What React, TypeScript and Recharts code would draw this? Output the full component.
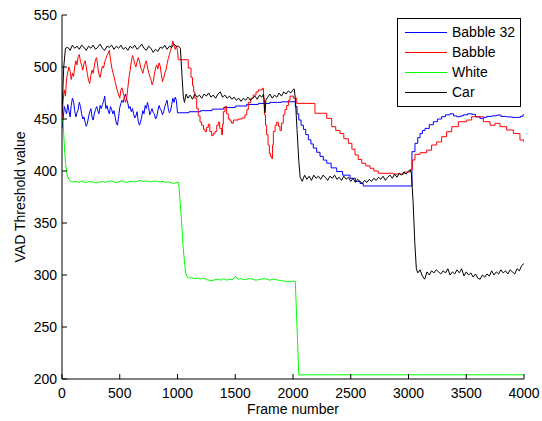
import { LineChart, Line, XAxis, YAxis, Legend } from "recharts";

const FONT = '"Liberation Sans", Arial, Helvetica, sans-serif';

const SERIES_NAMES = ["Babble 32", "Babble", "White", "Car"];
const SERIES_COLORS = ["#0000ff", "#ff0000", "#00ff00", "#000000"];
const X_TICKS = [0, 500, 1000, 1500, 2000, 2500, 3000, 3500, 4000];
const Y_TICKS = [200, 250, 300, 350, 400, 450, 500, 550];

// [frame, threshold] pairs
const babble32: [number, number][] = [
  [0, 441], [10, 450], [20, 462], [30, 458], [40, 455], [50, 464], [60, 458], [70, 452], [80, 463],
  [90, 470], [100, 467], [110, 458], [120, 452], [130, 456], [140, 459], [150, 466], [160, 462],
  [170, 455], [180, 450], [190, 452], [200, 447], [210, 443], [220, 446], [230, 452], [240, 457],
  [250, 460], [260, 452], [270, 449], [280, 455], [290, 459], [300, 462], [310, 458], [320, 455],
  [330, 463], [340, 460], [350, 464], [360, 467], [370, 472], [380, 460], [390, 463], [400, 458],
  [410, 455], [420, 462], [430, 459], [440, 455], [450, 458], [460, 452], [470, 446], [480, 444],
  [490, 452], [500, 461], [510, 465], [520, 468], [530, 466], [540, 471], [550, 474], [560, 469],
  [570, 465], [580, 460], [590, 462], [600, 457], [610, 460], [620, 455], [630, 451], [640, 453],
  [650, 457], [660, 448], [670, 444], [680, 447], [690, 452], [700, 458], [710, 455], [720, 463],
  [730, 460], [740, 466], [750, 461], [760, 454], [770, 457], [780, 460], [790, 456], [800, 455],
  [810, 450], [820, 452], [830, 458], [840, 463], [850, 460], [860, 458], [870, 454], [880, 457],
  [890, 462], [900, 465], [910, 468], [920, 460], [930, 456], [940, 458], [950, 464], [960, 470],
  [970, 466], [980, 471], [990, 468], [1000, 456], [1100, 457], [1200, 458], [1300, 459.5],
  [1400, 461], [1500, 462.5], [1600, 464], [1700, 465], [1800, 466], [1900, 466.5], [2000, 466.7],
  [2020, 462], [2035, 455], [2050, 449], [2070, 444], [2090, 440], [2110, 435], [2133, 430],
  [2155, 426], [2176, 422], [2205, 418], [2234, 414], [2262, 410.5], [2292, 407.5], [2330, 403],
  [2378, 399.5], [2430, 396], [2494, 393], [2540, 390], [2580, 388], [2608, 385.6], [3030, 418.6],
  [3056, 426.6], [3080, 432], [3100, 436], [3120, 439], [3143, 441], [3180, 444.5], [3215, 447.4],
  [3250, 450], [3287, 452.2], [3320, 454], [3359, 455], [3390, 453], [3417, 452.2], [3450, 453],
  [3474, 454], [3510, 455], [3547, 454.5], [3580, 452], [3619, 450.6], [3650, 451.5], [3677, 452.5],
  [3720, 453], [3764, 453.8], [3800, 452.5], [3850, 452], [3900, 451.5], [3937, 451.6],
  [3970, 452.5], [3991, 454], [4000, 454],
];

const babble: [number, number][] = [
  [0, 450], [10, 468], [20, 478], [30, 472], [40, 489], [50, 495], [60, 500], [70, 496], [80, 488],
  [90, 494], [100, 491], [110, 500], [120, 506], [130, 502], [140, 510], [150, 512], [160, 505],
  [170, 502], [180, 497], [190, 503], [200, 506], [210, 500], [220, 493], [230, 487], [240, 484],
  [250, 492], [260, 497], [270, 494], [280, 501], [290, 507], [300, 509], [310, 500], [320, 493],
  [330, 490], [340, 496], [350, 501], [360, 499], [370, 505], [380, 508], [390, 511], [400, 513],
  [410, 516], [420, 507], [430, 500], [440, 495], [450, 491], [460, 486], [470, 481], [480, 477],
  [490, 473], [500, 470], [510, 478], [520, 480], [530, 475], [540, 471], [550, 466], [560, 470],
  [570, 480], [580, 490], [590, 497], [600, 505], [610, 511], [620, 508], [630, 503], [640, 500],
  [650, 505], [660, 509], [670, 506], [680, 500], [690, 497], [700, 494], [710, 499], [720, 503],
  [730, 506], [740, 500], [750, 495], [760, 491], [770, 488], [780, 483], [790, 486], [800, 493],
  [810, 499], [820, 502], [830, 498], [840, 504], [850, 501], [860, 493], [870, 486], [880, 489],
  [890, 494], [900, 497], [910, 503], [920, 508], [930, 512], [940, 516], [950, 520], [960, 525],
  [970, 521], [980, 517], [990, 520], [1000, 516], [1007, 507], [1093, 499], [1117, 490],
  [1130, 482], [1140, 476], [1150, 470], [1166, 460], [1180, 453], [1195, 447], [1209, 444],
  [1225, 440], [1238, 438], [1252, 442], [1267, 445], [1280, 438], [1296, 434], [1310, 436],
  [1325, 438], [1340, 444], [1353, 447], [1365, 441], [1382, 435], [1390, 445], [1397, 457],
  [1411, 462], [1425, 455], [1440, 450], [1455, 448], [1469, 446], [1484, 449], [1498, 449],
  [1527, 450], [1556, 451], [1584, 454], [1600, 459], [1613, 466], [1635, 470], [1656, 473],
  [1680, 476], [1700, 478], [1734, 479.5], [1745, 470], [1752, 454], [1762, 444], [1772, 435],
  [1784, 425], [1795, 417], [1805, 414], [1816, 412], [1823, 425], [1830, 438], [1845, 444],
  [1859, 447], [1873, 443], [1887, 439], [1900, 446], [1916, 454], [1930, 459], [1945, 463],
  [1960, 468], [1974, 472], [2003, 470], [2032, 465], [2190, 455.5], [2292, 450.6], [2335, 442.6],
  [2370, 439], [2407, 436], [2440, 431], [2479, 426.6], [2510, 421], [2537, 415.4], [2565, 411],
  [2595, 407.4], [2630, 405], [2667, 402.6], [2700, 400], [2738, 397.8], [2868, 397.1],
  [2960, 399], [3013, 401], [3033, 410.6], [3056, 416], [3100, 417.6], [3157, 420], [3200, 425],
  [3244, 428], [3287, 433], [3330, 437.8], [3374, 442.6], [3431, 447.4], [3504, 449],
  [3547, 452.2], [3590, 452.2], [3648, 447.4], [3706, 444], [3749, 445.8], [3792, 442.6],
  [3850, 439.4], [3908, 436], [3965, 429.8], [4000, 427.5],
];

const white: [number, number][] = [
  [0, 450], [10, 446], [20, 425], [30, 408], [45, 396], [60, 392], [75, 390], [100, 389.5],
  [125, 390], [150, 389], [175, 390.5], [200, 389], [225, 389.5], [250, 390], [275, 389],
  [300, 388.5], [325, 389.5], [350, 390], [375, 389], [400, 390], [425, 390.5], [450, 389.5],
  [475, 389], [500, 390], [525, 390.5], [550, 389], [575, 389.5], [600, 390], [625, 389.5],
  [650, 390], [675, 391], [700, 390], [725, 390.5], [750, 390], [775, 389.5], [800, 390.5],
  [825, 390], [850, 389.5], [875, 390], [900, 389], [925, 389.5], [950, 388.5], [975, 388],
  [990, 389], [1010, 389], [1030, 360], [1050, 325], [1070, 302], [1085, 298], [1100, 297],
  [1125, 297.5], [1150, 296.5], [1175, 297], [1200, 296], [1225, 297], [1250, 295.5], [1275, 295],
  [1300, 294.5], [1325, 295.5], [1350, 296], [1375, 295], [1400, 296.5], [1425, 295], [1450, 296],
  [1475, 295.5], [1500, 298.5], [1525, 296], [1550, 296.5], [1575, 295.5], [1600, 296],
  [1625, 296.5], [1650, 296], [1675, 295], [1700, 295.5], [1725, 296], [1750, 296.5], [1775, 296],
  [1800, 295], [1825, 296], [1850, 295.5], [1875, 295], [1900, 294.5], [1925, 294], [1950, 293.5],
  [1975, 293.5], [2000, 294], [2020, 294], [2035, 250], [2050, 204], [4000, 204],
];

const car: [number, number][] = [
  [0, 455], [15, 500], [30, 518], [50, 519], [70, 516], [90, 521], [110, 518], [130, 520],
  [150, 517], [170, 521], [190, 519], [210, 516], [230, 520], [250, 518], [270, 521], [290, 517],
  [310, 519], [330, 522], [350, 518], [370, 516], [390, 520], [410, 519], [430, 521], [450, 517],
  [470, 520], [490, 518], [510, 521], [530, 517], [550, 519], [570, 516], [590, 520], [610, 518],
  [630, 521], [650, 517], [670, 519], [690, 522], [710, 518], [730, 516], [750, 520], [770, 518],
  [790, 514], [810, 517], [830, 515], [850, 519], [870, 518], [890, 521], [910, 517], [930, 520],
  [950, 519], [970, 522], [990, 520], [1010, 520], [1025, 518], [1040, 490], [1050, 472],
  [1060, 466], [1075, 474], [1090, 470], [1110, 473], [1130, 469], [1150, 474], [1170, 471],
  [1190, 473], [1210, 470], [1230, 474], [1250, 472], [1270, 475], [1290, 471], [1310, 473],
  [1330, 470], [1350, 474], [1370, 476], [1390, 471], [1410, 473], [1430, 470], [1450, 472],
  [1470, 469], [1490, 471], [1510, 468], [1530, 470], [1550, 467], [1570, 470], [1590, 468],
  [1610, 471], [1630, 468], [1650, 470], [1670, 472], [1690, 469], [1710, 473], [1730, 471],
  [1745, 474], [1752, 462], [1758, 456], [1765, 468], [1780, 471], [1800, 474], [1820, 470],
  [1840, 473], [1860, 471], [1880, 475], [1900, 472], [1920, 476], [1940, 474], [1960, 477],
  [1980, 475], [2000, 478], [2010, 479], [2020, 470], [2035, 440], [2050, 410], [2062, 394],
  [2080, 390], [2100, 396], [2120, 392], [2140, 395], [2160, 391], [2180, 396], [2200, 393],
  [2220, 395], [2240, 392], [2260, 396], [2280, 394], [2300, 391], [2320, 395], [2340, 393],
  [2360, 396], [2380, 392], [2400, 394], [2420, 391], [2440, 395], [2460, 392], [2480, 394],
  [2500, 390], [2520, 393], [2540, 389], [2560, 392], [2580, 390], [2600, 388], [2620, 391],
  [2640, 389], [2660, 392], [2680, 390], [2700, 393], [2720, 391], [2740, 394], [2760, 392],
  [2780, 395], [2800, 391], [2820, 394], [2840, 396], [2860, 393], [2880, 397], [2900, 394],
  [2920, 398], [2940, 396], [2960, 399], [2980, 397], [3000, 400], [3015, 401], [3025, 398],
  [3040, 370], [3055, 330], [3068, 306], [3080, 302], [3100, 305], [3120, 299], [3140, 296],
  [3160, 303], [3180, 300], [3200, 304], [3220, 302], [3240, 305], [3260, 303], [3280, 301],
  [3300, 304], [3320, 302], [3340, 306], [3360, 300], [3380, 303], [3400, 301], [3420, 305],
  [3440, 302], [3460, 306], [3480, 299], [3500, 303], [3520, 300], [3540, 302], [3560, 298],
  [3580, 301], [3600, 297], [3620, 296], [3640, 300], [3660, 298], [3680, 301], [3700, 299],
  [3720, 304], [3740, 300], [3760, 303], [3780, 301], [3800, 305], [3820, 302], [3840, 304],
  [3860, 301], [3880, 305], [3900, 303], [3920, 301], [3940, 306], [3960, 304], [3980, 309],
  [4000, 311],
];

const SERIES = [babble32, babble, white, car];
// frame where the noisy part ends and the stair-stepped part begins (null = no stairs)
const STEP_FROM: (number | null)[] = [1000, 1007, null, null];

const toRows = (pairs: [number, number][]) => pairs.map(([f, v]) => ({ f, v }));

const FS = 14;
const TICK_LEN = 5;

// inward MATLAB-style tick marks; labels only on bottom/left
const BottomTick = ({ x, y, payload }: any) => (
  <g>
    <line x1={x} x2={x} y1={y} y2={y - TICK_LEN} stroke="#000" />
    <text x={x} y={y + 14} textAnchor="middle" dominantBaseline="central"
      fontFamily={FONT} fontSize={FS} fill="#000">
      {payload.value}
    </text>
  </g>
);
const LeftTick = ({ x, y, payload }: any) => (
  <g>
    <line x1={x} x2={x + TICK_LEN} y1={y} y2={y} stroke="#000" />
    <text x={x - 5} y={y} textAnchor="end" dominantBaseline="central"
      fontFamily={FONT} fontSize={FS} fill="#000">
      {payload.value}
    </text>
  </g>
);
const TopTick = ({ x, y }: any) => (
  <line x1={x} x2={x} y1={y} y2={y + TICK_LEN} stroke="#000" />
);
const RightTick = ({ x, y }: any) => (
  <line x1={x} x2={x - TICK_LEN} y1={y} y2={y} stroke="#000" />
);

const LegendBox = () => (
  <div
    style={{
      border: "1px solid #000",
      background: "#fff",
      width: 115,
      padding: "3px 0 4px 7px",
      fontFamily: FONT,
      fontSize: FS,
      color: "#000",
    }}
  >
    {SERIES_NAMES.map((name, i) => (
      <div key={name} style={{ display: "flex", alignItems: "center", height: 20 }}>
        <svg width={42} height={20} style={{ marginRight: 5, display: "block" }}>
          <line x1={0} x2={42} y1={10.5} y2={10.5} stroke={SERIES_COLORS[i]} strokeWidth={1} />
        </svg>
        {name}
      </div>
    ))}
  </div>
);

const segments = SERIES.flatMap((s, i) => {
  const split = STEP_FROM[i];
  if (split === null) return [{ key: `${i}`, i, rows: toRows(s), stepped: false }];
  return [
    { key: `${i}a`, i, rows: toRows(s.filter(([f]) => f <= split)), stepped: false },
    { key: `${i}b`, i, rows: toRows(s.filter(([f]) => f >= split)), stepped: true },
  ];
});

export default function App() {
  return (
    <div style={{ position: "fixed", left: 0, top: 0, width: 542, height: 421, background: "#fff" }}>
      <LineChart
        width={542}
        height={421}
        margin={{ top: 15, right: 18, bottom: 12, left: 12 }}
      >
        <XAxis
          xAxisId="x"
          dataKey="f"
          type="number"
          domain={[0, 4000]}
          ticks={X_TICKS}
          interval={0}
          allowDataOverflow
          height={30}
          stroke="#000"
          tickLine={false}
          tickSize={0}
          tickMargin={0}
          tick={<BottomTick />}
          label={{
            content: ({ viewBox }: any) => (
              <text
                x={viewBox.x + viewBox.width / 2}
                y={viewBox.y + 30}
                textAnchor="middle"
                dominantBaseline="central"
                fontFamily={FONT}
                fontSize={FS}
                fill="#000"
              >
                Frame number
              </text>
            ),
          }}
        />
        <XAxis
          xAxisId="top"
          orientation="top"
          type="number"
          domain={[0, 4000]}
          ticks={X_TICKS}
          interval={0}
          allowDataOverflow
          height={0}
          stroke="#000"
          tickLine={false}
          tickSize={0}
          tickMargin={0}
          tick={<TopTick />}
        />
        <YAxis
          yAxisId="y"
          type="number"
          domain={[200, 550]}
          ticks={Y_TICKS}
          interval={0}
          allowDataOverflow
          width={50}
          stroke="#000"
          tickLine={false}
          tickSize={0}
          tickMargin={0}
          tick={<LeftTick />}
          label={{
            content: ({ viewBox }: any) => {
              const cx = viewBox.x + 8;
              const cy = viewBox.y + viewBox.height / 2;
              return (
                <text
                  x={cx}
                  y={cy}
                  transform={`rotate(-90, ${cx}, ${cy})`}
                  textAnchor="middle"
                  dominantBaseline="central"
                  fontFamily={FONT}
                  fontSize={FS}
                  fill="#000"
                >
                  VAD Threshold value
                </text>
              );
            },
          }}
        />
        <YAxis
          yAxisId="right"
          orientation="right"
          type="number"
          domain={[200, 550]}
          ticks={Y_TICKS}
          interval={0}
          allowDataOverflow
          width={0}
          stroke="#000"
          tickLine={false}
          tickSize={0}
          tickMargin={0}
          tick={<RightTick />}
        />
        {segments.map((seg) => (
          <Line
            key={seg.key}
            xAxisId="x"
            yAxisId="y"
            data={seg.rows}
            dataKey="v"
            name={SERIES_NAMES[seg.i]}
            type={seg.stepped ? "stepAfter" : "linear"}
            stroke={SERIES_COLORS[seg.i]}
            strokeWidth={1}
            dot={false}
            activeDot={false}
            isAnimationActive={false}
          />
        ))}
        <Legend
          layout="vertical"
          align="center"
          verticalAlign="middle"
          wrapperStyle={{ top: 18, left: 397, width: "auto", height: "auto" }}
          content={<LegendBox />}
        />
      </LineChart>
    </div>
  );
}
